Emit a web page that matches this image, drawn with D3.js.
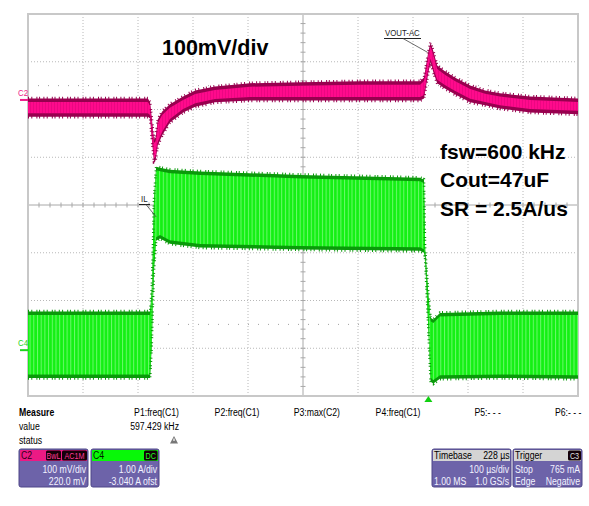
<!DOCTYPE html>
<html>
<head>
<meta charset="utf-8">
<script src="https://cdn.jsdelivr.net/npm/d3@7"></script>
<style>
body { margin: 0; background: #fff; }
text { font-family: "Liberation Sans", Arial, sans-serif; }
</style>
</head>
<body>
<svg id="scope" width="589" height="506"></svg>
<script>
// time in us relative to trigger, C2 in mV (AC), C4 in A
const c2Time  = [-728, -510, -506, -503, -499, -496, -492, -484, -470, -446, -424, -388, -324, -233, -124, -15, -8, 0, 4, 9, 16, 30, 48, 76, 103, 130, 185, 272];
const c2Upper = [2, 2, -6, -38, -84, -80, -42, -25, -10, 6, 19, 27, 34, 36, 38, 38, 46, 101, 119, 101, 71, 59, 46, 29, 19, 13, 6, 2];
const c2Lower = [-34, -34, -38, -80, -128, -126, -94, -73, -46, -25, -13, -4, 0, 0, 0, 0, 4, 59, 80, 59, 36, 25, 13, -4, -10, -17, -25, -29];

const c4Time  = [-728, -506, -503, -501, -499, -495, -488, -470, -415, -233, -15, -8, -6, 0, 4, 9, 21, 130, 272];
const c4Upper = [0.80, 0.80, 1.26, 2.09, 3.14, 3.83, 3.81, 3.77, 3.73, 3.66, 3.60, 3.56, 2.14, 1.15, 0.67, 0.63, 0.77, 0.80, 0.80];
const c4Lower = [-0.57, -0.57, 0.10, 0.94, 1.68, 2.30, 2.35, 2.24, 2.16, 2.12, 2.09, 2.05, 1.93, 0.42, -0.65, -0.69, -0.59, -0.57, -0.59];

const notes = ["fsw=600 kHz", "Cout=47uF", "SR = 2.5A/us"];
const measureHeads = ["P1:freq(C1)", "P2:freq(C1)", "P3:max(C2)", "P4:freq(C1)", "P5:- - -", "P6:- - -"];
const measureValues = ["597.429 kHz", "", "", "", "", ""];
const c2Box = ["100 mV/div", "220.0 mV"];
const c4Box = ["1.00 A/div", "-3.040 A ofst"];

const svg = d3.select("#scope");
const pL = 28, pR = 578, pT = 14, pB = 396;

const x = d3.scaleLinear().domain([-728, 272]).range([pL, pR]);
const gx = d3.scaleLinear().domain([0, 10]).range([pL, pR]);
const gy = d3.scaleLinear().domain([4, -4]).range([pT, pB]);
const yC2 = d3.scaleLinear().domain([180, -620]).range([pT, pB]);   // 100 mV/div, marker 2.2 div up
const yC4 = d3.scaleLinear().domain([7.04, -0.96]).range([pT, pB]); // 1 A/div, -3.04 A offset

// grid
const grid = svg.append("g");
grid.selectAll(".v").data(d3.range(1, 10).filter(d => d !== 5)).enter().append("line")
    .attr("x1", d => gx(d)).attr("x2", d => gx(d)).attr("y1", pT).attr("y2", pB)
    .attr("stroke", "#b8b8b8").attr("stroke-dasharray", "1,2");
grid.selectAll(".h").data(d3.range(-3, 4).filter(d => d !== 0)).enter().append("line")
    .attr("y1", d => gy(d)).attr("y2", d => gy(d)).attr("x1", pL).attr("x2", pR)
    .attr("stroke", "#b8b8b8").attr("stroke-dasharray", "1,2");
grid.selectAll(".q").data([2.5, -2.5]).enter().append("line")
    .attr("y1", d => gy(d)).attr("y2", d => gy(d)).attr("x1", pL).attr("x2", pR)
    .attr("stroke", "#a0a0a0").attr("stroke-dasharray", "1,9");
grid.append("line").attr("x1", gx(5)).attr("x2", gx(5)).attr("y1", pT).attr("y2", pB).attr("stroke", "#a8a8a8");
grid.append("line").attr("y1", gy(0)).attr("y2", gy(0)).attr("x1", pL).attr("x2", pR).attr("stroke", "#a8a8a8");
grid.selectAll(".tv").data(d3.range(-4, 4.01, 0.2)).enter().append("line")
    .attr("x1", gx(5) - 2.5).attr("x2", gx(5) + 2.5).attr("y1", d => gy(d)).attr("y2", d => gy(d))
    .attr("stroke", "#a8a8a8");
grid.selectAll(".th").data(d3.range(0, 10.01, 0.2)).enter().append("line")
    .attr("y1", gy(0) - 2.5).attr("y2", gy(0) + 2.5).attr("x1", d => gx(d)).attr("x2", d => gx(d))
    .attr("stroke", "#a8a8a8");
grid.append("rect").attr("x", pL).attr("y", pT).attr("width", pR - pL).attr("height", pB - pT)
    .attr("fill", "none").attr("stroke", "#c8c8c8").attr("stroke-width", 2);

const defs = svg.append("defs");
defs.append("clipPath").attr("id", "plot").append("rect")
    .attr("x", pL).attr("y", pT).attr("width", pR - pL).attr("height", pB - pT);
const rip = defs.append("pattern").attr("id", "rip").attr("patternUnits", "userSpaceOnUse")
    .attr("width", 3.7).attr("height", 8);
rip.append("rect").attr("width", 1).attr("height", 8).attr("fill", "#b4ffb4").attr("opacity", 0.55);
const ripP = defs.append("pattern").attr("id", "ripP").attr("patternUnits", "userSpaceOnUse")
    .attr("width", 3).attr("height", 8);
ripP.append("rect").attr("width", 1).attr("height", 8).attr("fill", "#c0006a").attr("opacity", 0.3);

function drawTrace(time, up, lo, ys, dark, bright, pattern) {
    const pts = time.map((t, i) => ({ x: x(t), yu: ys(up[i]), yl: ys(lo[i]) }));
    const g = svg.append("g").attr("clip-path", "url(#plot)");
    const inset = d => Math.min(3, (d.yl - d.yu) * 0.2);
    g.append("path").datum(pts)
        .attr("d", d3.area().x(d => d.x).y0(d => d.yl + 0.5).y1(d => d.yu - 0.5))
        .attr("fill", dark);
    const inner = d3.area().x(d => d.x).y0(d => d.yl - inset(d)).y1(d => d.yu + inset(d));
    g.append("path").datum(pts).attr("d", inner).attr("fill", bright);
    g.append("path").datum(pts).attr("d", inner).attr("fill", `url(#${pattern})`);
    [d => d.yu - 1, d => d.yl + 1].forEach(fy => {
        g.append("path").datum(pts)
            .attr("d", d3.line().x(d => d.x).y(fy))
            .attr("fill", "none").attr("stroke", dark).attr("stroke-width", 2.5)
            .attr("stroke-dasharray", "1,2.3,1,4.1,1,1.7,1,3.3");
    });
}

drawTrace(c2Time, c2Upper, c2Lower, yC2, "#98004f", "#ff0a8c", "ripP");
drawTrace(c4Time, c4Upper, c4Lower, yC4, "#0a9a0a", "#14f014", "rip");

function txt(parent, px, py, s, o = {}) {
    return parent.append("text")
        .attr("transform", `translate(${px},${py}) scale(${o.sx || 0.87},1)`)
        .attr("text-anchor", o.anchor || "start")
        .attr("font-size", o.size || 10)
        .attr("font-weight", o.bold ? "bold" : null)
        .attr("fill", o.fill || "#000")
        .text(s);
}

// channel markers
const lab = svg.append("g");
txt(lab, 18, 96, "C2", { size: 9, fill: "#ee1a8a" });
lab.append("line").attr("x1", 20).attr("x2", 28).attr("y1", yC2(0)).attr("y2", yC2(0))
    .attr("stroke", "#ee1a8a").attr("stroke-width", 2);
txt(lab, 18, 346, "C4", { size: 9, fill: "#1ed41e" });
lab.append("line").attr("x1", 20).attr("x2", 28).attr("y1", yC4(0)).attr("y2", yC4(0))
    .attr("stroke", "#1ed41e").attr("stroke-width", 2);

// annotations
const vAnchor = [-2, 100];
txt(lab, 385, 36, "VOUT-AC", { size: 9, fill: "#222" });
lab.append("line").attr("x1", 384).attr("x2", 421).attr("y1", 38.5).attr("y2", 38.5).attr("stroke", "#222");
lab.append("line").attr("x1", 403).attr("y1", 38.5).attr("x2", x(vAnchor[0])).attr("y2", yC2(vAnchor[1]))
    .attr("stroke", "#444").attr("stroke-width", 0.8);
const ilAnchor = [-495, 2.79];
txt(lab, 141, 202, "IL", { size: 9, fill: "#222" });
lab.append("line").attr("x1", 139).attr("x2", 150).attr("y1", 204.5).attr("y2", 204.5).attr("stroke", "#222");
lab.append("line").attr("x1", 146).attr("y1", 204.5).attr("x2", x(ilAnchor[0])).attr("y2", yC4(ilAnchor[1]))
    .attr("stroke", "#444").attr("stroke-width", 0.8);

lab.append("text").attr("x", 162).attr("y", 55).attr("font-size", 21.5).attr("font-weight", "bold").text("100mV/div");
lab.selectAll(".note").data(notes).enter().append("text")
    .attr("x", 440).attr("y", (d, i) => [159, 187, 216][i])
    .attr("font-size", 21).attr("font-weight", "bold").text(d => d);

// trigger marker
lab.append("path").attr("d", `M${x(0)},396 l-4,6 h8 z`).attr("fill", "#10d010");

// measurement row
const meas = svg.append("g");
txt(meas, 19, 416, "Measure", { bold: true });
txt(meas, 19, 430, "value");
txt(meas, 19, 443.5, "status");
measureHeads.forEach((h, i) => {
    txt(meas, 179 + 80.5 * i, 416, h, { anchor: "end" });
    if (measureValues[i]) txt(meas, 179 + 80.5 * i, 430, measureValues[i], { anchor: "end" });
});
meas.append("path").attr("d", "M174,436 l-4,7.5 h8 z").attr("fill", "#777");
meas.append("rect").attr("x", 173.4).attr("y", 438.5).attr("width", 1.2).attr("height", 2.5).attr("fill", "#fff");

// info boxes
function box(bx, w, headFill, rows) {
    const g = svg.append("g");
    g.append("rect").attr("x", bx).attr("y", 449).attr("width", w).attr("height", 38).attr("rx", 2)
        .attr("fill", "#6d63a9").attr("stroke", "#4e4688");
    g.append("rect").attr("x", bx + 1).attr("y", 450).attr("width", w - 2).attr("height", 11).attr("fill", headFill);
    rows.forEach((r, i) => {
        if (r[0]) txt(g, bx + 2, [473, 485][i], r[0], { fill: "#f2f2ff" });
        if (r[1]) txt(g, bx + w - 2, [473, 485][i], r[1], { fill: "#f2f2ff", anchor: "end" });
    });
    return g;
}
function badge(g, bx, w, s, fill) {
    g.append("rect").attr("x", bx).attr("y", 450.5).attr("width", w).attr("height", 10).attr("rx", 1.5).attr("fill", "#140008");
    txt(g, bx + w / 2, 459, s, { anchor: "middle", fill, size: 9, sx: 0.8 });
}
const b2 = box(19, 69, "#ec1a84", [["", c2Box[0]], ["", c2Box[1]]]);
txt(b2, 21, 459, "C2", { fill: "#300018" });
badge(b2, 46, 15, "BwL", "#ff3a9a");
badge(b2, 62, 25, "AC1M", "#ff3a9a");
const b4 = box(91, 68, "#08f808", [["", c4Box[0]], ["", c4Box[1]]]);
txt(b4, 93, 459, "C4", { fill: "#002000" });
badge(b4, 144, 13.5, "DC", "#20ff20");
const bt = box(432, 79, "#d4d4d4", [["", "100 µs/div"], ["1.00 MS", "1.0 GS/s"]]);
txt(bt, 434, 459, "Timebase");
txt(bt, 509.5, 459, "228 µs", { anchor: "end" });
const bg = box(513, 69, "#d4d4d4", [["Stop", "765 mA"], ["Edge", "Negative"]]);
txt(bg, 515, 459, "Trigger");
badge(bg, 568, 13, "C3", "#e0e0e0");
</script>
</body>
</html>
